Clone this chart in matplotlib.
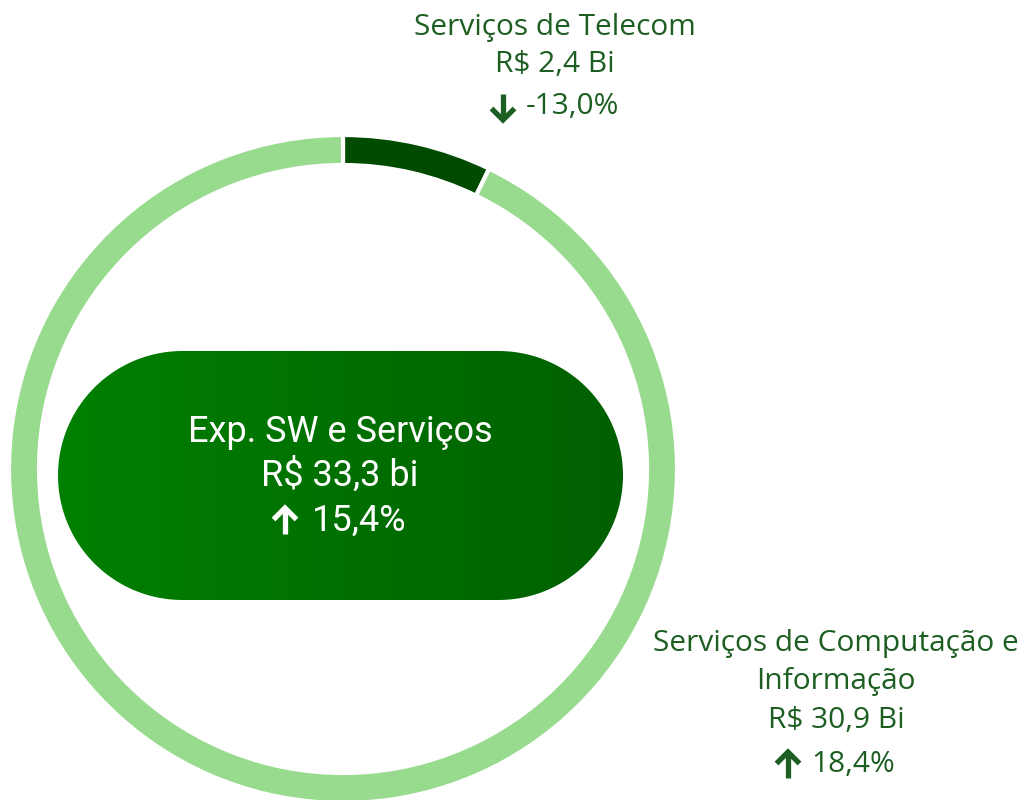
import numpy as np
import matplotlib
matplotlib.use("Agg")
import matplotlib.pyplot as plt
from matplotlib.patches import Polygon
from matplotlib.colors import LinearSegmentedColormap

# data
segments = ["Serviços de Telecom", "Serviços de Computação e\nInformação"]
values = [2.4, 30.9]          # R$ bi
changes = [-13.0, 18.4]       # % var
total_label = "Exp. SW e Serviços"
total_value = 33.3
total_change = 15.4

seg_colors = ["#004b00", "#98db8e"]
txt_green = "#1d5e22"

W, H = 1025, 800
fig = plt.figure(figsize=(W / 100, H / 100), dpi=100)
ax = fig.add_axes([0, 0, 1, 1])

# donut ring
cx, cy, R = 343, H - 469, 334
ax.pie(values, colors=seg_colors, startangle=90, counterclock=False,
       center=(cx, cy), radius=R,
       wedgeprops=dict(width=30, edgecolor="white", linewidth=3))
ax.set_xlim(0, W)
ax.set_ylim(0, H)
ax.set_aspect("equal")
ax.axis("off")

# centre pill (stadium shape) with gradient
px0, px1, py0, py1 = 58, 623, H - 600, H - 351
r = (py1 - py0) / 2
ym = (py0 + py1) / 2
t_right = np.linspace(-np.pi / 2, np.pi / 2, 100)
t_left = np.linspace(np.pi / 2, 3 * np.pi / 2, 100)
pts = np.vstack([
    np.column_stack([px1 - r + r * np.cos(t_right), ym + r * np.sin(t_right)]),
    np.column_stack([px0 + r + r * np.cos(t_left), ym + r * np.sin(t_left)]),
])
pill = Polygon(pts, closed=True, facecolor="none", edgecolor="none")
ax.add_patch(pill)
cmap = LinearSegmentedColormap.from_list("g", ["#008000", "#006000"])
grad = np.linspace(0, 1, 256).reshape(1, -1)
im = ax.imshow(grad, cmap=cmap, extent=(px0, px1, py0, py1), aspect="auto", zorder=2)
im.set_clip_path(pill)


def fmt(v, d=1):
    return f"{v:.{d}f}".replace(".", ",")


def change_line(x_arrow, x_num, y, v, color, size, family, z=3):
    # thick stroke arrow, up for growth, down for drop
    h, hw = 13, 11.5
    s = 1 if v >= 0 else -1
    tip = y + s * h
    ax.plot([x_arrow, x_arrow], [y - s * h, tip - s * 2], color=color, lw=3.8,
            solid_capstyle="butt", zorder=z)
    ax.plot([x_arrow - hw, x_arrow, x_arrow + hw], [tip - s * hw, tip, tip - s * hw],
            color=color, lw=3.8, solid_joinstyle="miter", solid_capstyle="butt", zorder=z)
    ax.text(x_num, y, f"{fmt(v)}%", color=color, fontsize=size, family=family,
            ha="left", va="center", zorder=z)


cfont = ["Roboto", "DejaVu Sans"]
ax.text(340, H - 432, total_label, color="white", fontsize=26, family=cfont,
        ha="center", va="center", zorder=3)
ax.text(340, H - 476, f"R$ {fmt(total_value)} bi", color="white", fontsize=26,
        family=cfont, ha="center", va="center", zorder=3)
change_line(285, 312, H - 521, total_change, "white", 26, cfont)

# segment labels
lfont = ["Open Sans", "DejaVu Sans"]
lab_pos = [(555, [27, 65, 107], 503, 526), (836, [643, 682, 720, 765], 788, 811)]
for name, val, chg, (x, ys, xa, xn) in zip(segments, values, changes, lab_pos):
    lines = name.split("\n") + [f"R$ {fmt(val)} Bi"]
    for line, y in zip(lines, ys):
        ax.text(x, H - y, line, color=txt_green, fontsize=21.5, family=lfont,
                ha="center", va="center")
    change_line(xa, xn, H - ys[-1], chg, txt_green, 21.5, lfont, z=1)

fig.savefig("out.png", dpi=100, facecolor="white")
